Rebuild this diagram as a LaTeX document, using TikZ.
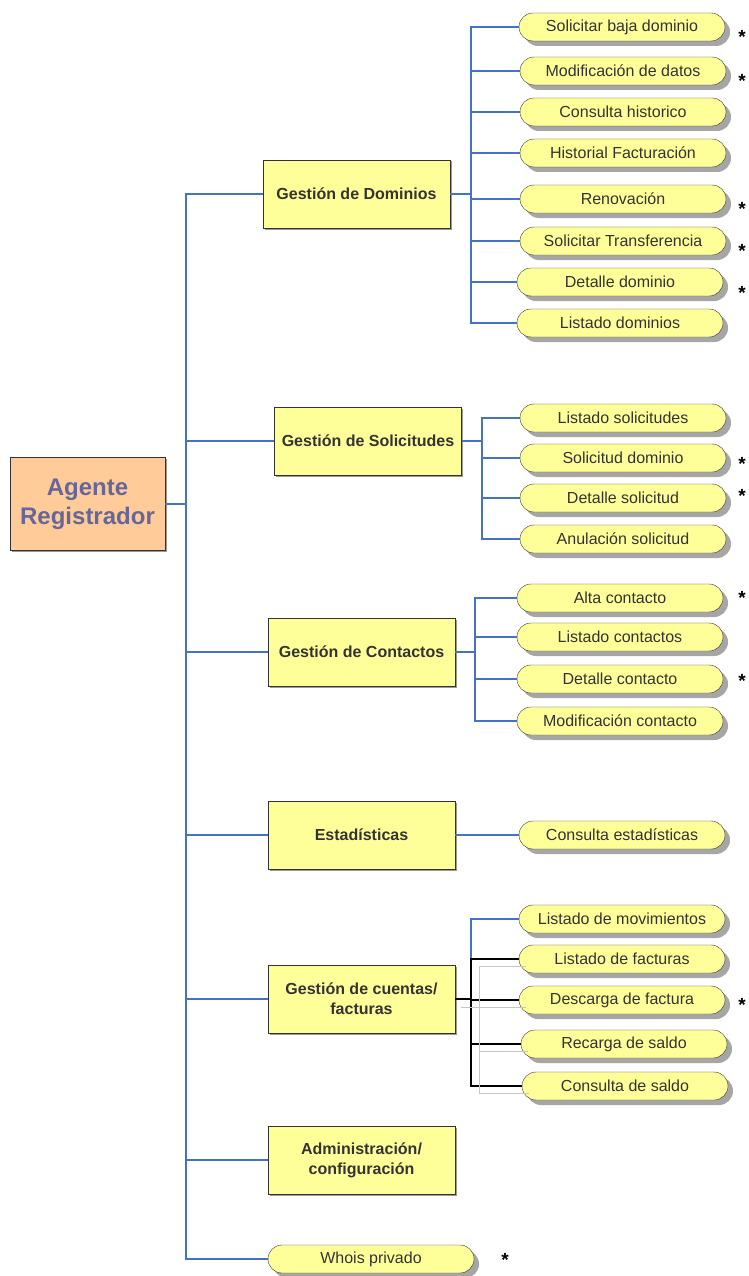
\documentclass[tikz,border=0pt]{standalone}
\usepackage{fontspec}
\setmainfont{Liberation Sans}
\usetikzlibrary{positioning}
\usetikzlibrary{shadows}
\definecolor{mblue}{RGB}{68, 114, 196}
\definecolor{myellow}{RGB}{255, 255, 153}
\definecolor{mpeach}{RGB}{255, 204, 153}
\definecolor{mslate}{RGB}{102, 102, 153}
\definecolor{mdark}{RGB}{51, 51, 51}
\tikzset{conn/.style = {mblue, line width = 1.2pt}}
\tikzset{bconn/.style = {black, line width = 1.2pt}}
\tikzset{ghost/.style = {gray!45, line width = 1pt}}
\tikzset{leaf/.style = {draw = mdark, fill = myellow, rounded corners = 14pt,
    minimum width = 206pt, minimum height = 28pt, inner sep = 0,
    text = mdark, font = \fontsize{16}{18}\selectfont,
    drop shadow = {shadow xshift = 5pt, shadow yshift = -5pt,
      fill = gray!70, opacity = 1}}}
\tikzset{box/.style = {draw = mdark, fill = myellow, minimum width = 187pt,
    minimum height = 68pt, inner sep = 0, align = center, text = mdark,
    font = \bfseries\fontsize{16}{20}\selectfont,
    drop shadow = {shadow xshift = 1.5pt, shadow yshift = -1.5pt,
      fill = gray!80, opacity = 1}}}
\tikzset{flag/.style = {anchor = base, inner sep = 0,
    font = \bfseries\fontsize{19}{19}\selectfont}}

\begin{document}
\begin{tikzpicture}[x = 1pt, y = -1pt]
      \useasboundingbox (0, 0) rectangle (749, 1276);

      \node [box, fill = mpeach, minimum width = 155pt, minimum height = 93pt,
        text = mslate, font = \bfseries\fontsize{24}{29}\selectfont]
        (root) at (87.5, 504) {Agente\\Registrador};

      \node [box] (dom) at (356.5, 194) {Gestión de Dominios};
      \node [box] (sol) at (368, 441) {Gestión de Solicitudes};
      \node [box] (con) at (361.5, 652) {Gestión de Contactos};
      \node [box] (est) at (361.5, 835) {Estadísticas};
      \node [box] (cue) at (361.5, 999) {Gestión de cuentas/\\facturas};
      \node [box] (adm) at (361.5, 1160) {Administración/\\configuración};
      \node [leaf] (who) at (371, 1259) {Whois privado};

      \coordinate (tr) at (186, 504);
      \draw [conn] (root.east) -- (tr);
      \foreach \n in {dom, sol, con, est, cue, adm, who}
        \draw [conn] (tr) |- (\n.west);

      \node [leaf] (sbd) at (622, 27) {Solicitar baja dominio};
      \node [leaf] (mdd) at (623, 71) {Modificación de datos};
      \node [leaf] (chi) at (623, 112) {Consulta historico};
      \node [leaf] (hfa) at (623, 153) {Historial Facturación};
      \node [leaf] (ren) at (623, 199) {Renovación};
      \node [leaf] (str) at (623, 241) {Solicitar Transferencia};
      \node [leaf] (ddo) at (620, 282) {Detalle dominio};
      \node [leaf] (ldo) at (620, 323) {Listado dominios};
      \coordinate (bd) at (471, 194);
      \draw [conn] (dom.east) -- (bd);
      \foreach \n in {sbd, mdd, chi, hfa, ren, str, ddo, ldo}
        \draw [conn] (bd) |- (\n.west);

      \node [leaf] (lso) at (623, 418) {Listado solicitudes};
      \node [leaf] (sdo) at (623, 458) {Solicitud dominio};
      \node [leaf] (dso) at (623, 498) {Detalle solicitud};
      \node [leaf] (aso) at (623, 539) {Anulación solicitud};
      \coordinate (bs) at (482, 441);
      \draw [conn] (sol.east) -- (bs);
      \foreach \n in {lso, sdo, dso, aso}
        \draw [conn] (bs) |- (\n.west);

      \node [leaf] (aco) at (620, 598) {Alta contacto};
      \node [leaf] (lco) at (620, 637) {Listado contactos};
      \node [leaf] (dco) at (620, 679) {Detalle contacto};
      \node [leaf] (mco) at (620, 721) {Modificación contacto};
      \coordinate (bc) at (475, 652);
      \draw [conn] (con.east) -- (bc);
      \foreach \n in {aco, lco, dco, mco}
        \draw [conn] (bc) |- (\n.west);

      \node [leaf] (ces) at (622, 835) {Consulta estadísticas};
      \draw [conn] (est.east) -- (ces.west);

      \node [leaf] (lmo) at (622, 919) {Listado de movimientos};
      \node [leaf] (lfa) at (622, 959) {Listado de facturas};
      \node [leaf] (dfa) at (622, 1000) {Descarga de factura};
      \node [leaf] (rsa) at (624, 1044) {Recarga de saldo};
      \node [leaf] (csa) at (625, 1086) {Consulta de saldo};
      \coordinate (bf) at (471, 999);
      \coordinate (gf) at (479, 1007);
      \draw [conn] (bf |- lfa.west) |- (lmo.west);
      \draw [bconn] (cue.east) -- (bf);
      \foreach \n in {lfa, dfa, rsa, csa}
        \draw [bconn] (bf) |- (\n.west);
      \draw [ghost] ([shift = {(6, 8)}]cue.east) -- (gf);
      \foreach \n in {lfa, dfa, rsa, csa}
        \draw [ghost] (gf) |- ([shift = {(7, 7)}]\n.west);

      \node [flag] (f1) at (742, 44) {*};
      \node [flag] (f2) at (742, 88) {*};
      \node [flag] (f3) at (742, 215) {*};
      \node [flag] (f4) at (742, 257) {*};
      \node [flag] (f5) at (742, 299) {*};
      \node [flag] (f6) at (742, 470) {*};
      \node [flag] (f7) at (742, 502) {*};
      \node [flag] (f8) at (742, 604) {*};
      \node [flag] (f9) at (742, 687) {*};
      \node [flag] (f10) at (742, 1011) {*};
      \node [flag] (f11) at (505, 1266) {*};
    \end{tikzpicture}
\end{document}
